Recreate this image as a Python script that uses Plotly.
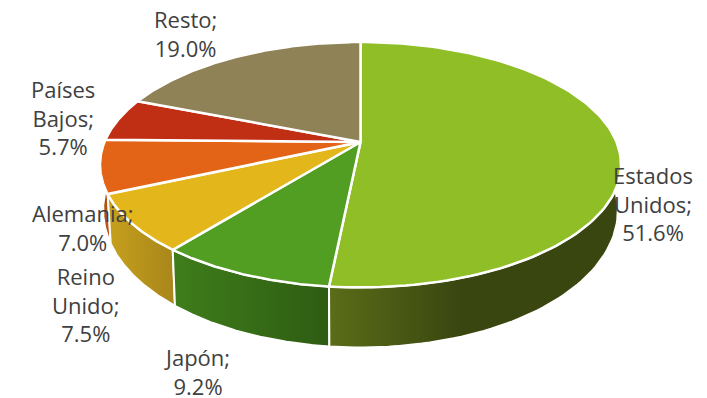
import numpy as np
import plotly.graph_objects as go

categories = ["Estados Unidos", "Japón", "Reino Unido", "Alemania", "Países Bajos", "Resto"]
shares = [51.6, 9.2, 7.5, 7.0, 5.7, 19.0]
top_colors = ["#8fbe26", "#529e22", "#e3b61c", "#e36416", "#c02e14", "#8f8256"]
wall_colors = [
    ("#5a6d18", "#3a4610"), ("#3f7d1b", "#2e5c12"), ("#c6a01d", "#a8861a"),
    ("#b4500f", "#c85a16"), ("#8a2010", "#8a2010"), ("#665c3c", "#665c3c"),
]
label_lines = [["Estados", "Unidos;"], ["Japón;"], ["Reino", "Unido;"], ["Alemania;"], ["Países", "Bajos;"], ["Resto;"]]
label_centers = [(653, 203), (197, 371), (86, 304), (82, 227), (63, 117), (185, 33)]

# projection of the tilted disc onto the page (pixels)
CX, CY, RX, RY, K = 360.5, 142.0, 256.0, 118.5, 0.1854
GRAD_END = [460, None, None, None, None, None]


def rim(theta):
    X, Y = np.sin(theta), np.cos(theta)
    d = 1 + K * Y
    return CX + RX * X / d, CY - RY * Y / d


def lower_rim(theta):
    x, y = rim(theta)
    return CX + (x - CX) * 0.988, y + 42 - 18 * np.cos(theta)


fig = go.Figure()
edges = np.cumsum([0.0] + shares) / sum(shares) * 2 * np.pi
arcs = [np.linspace(edges[i], edges[i + 1], 120) for i in range(len(shares))]

# side walls first, back slices before front slices
for i in [5, 4, 3, 2, 1, 0]:
    xt, yt = rim(arcs[i])
    xb, yb = lower_rim(arcs[i])
    xs = np.r_[xt, xb[::-1], xt[0]]
    ys = np.r_[yt, yb[::-1], yt[0]]
    lo = float(min(xt[-1], xb[-1]))
    hi = float(GRAD_END[i] or max(xt.max(), xb.max()))
    fig.add_trace(go.Scatter(
        x=xs, y=ys, mode="lines", fill="toself",
        line=dict(color="white", width=2),
        fillgradient=dict(type="horizontal", start=lo, stop=hi,
                          colorscale=[[0, wall_colors[i][0]], [1, wall_colors[i][1]]]),
        hoverinfo="skip", showlegend=False,
    ))

# top surface
for i in range(len(shares)):
    xt, yt = rim(arcs[i])
    fig.add_trace(go.Scatter(
        x=np.r_[CX, xt, CX], y=np.r_[CY, yt, CY], mode="lines", fill="toself",
        fillcolor=top_colors[i], line=dict(color="white", width=2.5),
        name=categories[i], hoverinfo="skip", showlegend=False,
    ))

for lines, v, (lx, ly) in zip(label_lines, shares, label_centers):
    fig.add_annotation(
        x=lx, y=ly, xref="x", yref="y", showarrow=False,
        text="<br>".join(lines + [f"{v:.1f}%"]), align="center",
        font=dict(family="Open Sans, sans-serif", size=22, color="#404040"),
    )

fig.update_layout(
    width=707, height=398, margin=dict(l=0, r=0, t=0, b=0),
    paper_bgcolor="white", plot_bgcolor="white",
    xaxis=dict(range=[0, 707], visible=False, fixedrange=True),
    yaxis=dict(range=[398, 0], visible=False, fixedrange=True),
)
fig.write_html(
    "out.html",
    config={"displayModeBar": False},
    post_script="document.body.style.margin='0';document.documentElement.style.overflow='hidden';",
)
